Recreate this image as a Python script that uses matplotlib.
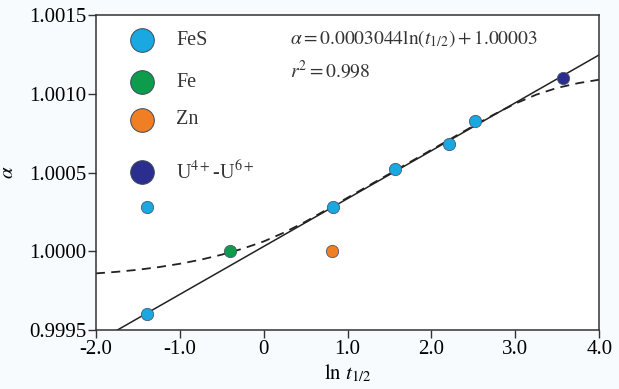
import numpy as np
import matplotlib
matplotlib.use("Agg")
import matplotlib.pyplot as plt

plt.rcParams['font.family'] = ['Liberation Serif', 'DejaVu Serif']
plt.rcParams['mathtext.fontset'] = 'stix'

# ---- data ----
fes_x = [-1.39, -1.39, 0.83, 1.57, 2.21, 2.52]
fes_y = [0.99960, 1.00028, 1.00028, 1.00052, 1.00068, 1.00083]
fe_x = [-0.40]
fe_y = [1.00000]
zn_x = [0.81]
zn_y = [1.00000]
u_x = [3.57]
u_y = [1.00110]

fit_slope = 0.0003044
fit_intercept = 1.00003
fit_x = [-2.0, 4.0]

dash_x = [-2.0, -1.75, -1.5, -1.25, -1.0, -0.75, -0.5, -0.25, 0.0, 0.25, 0.5,
          0.75, 1.0, 1.25, 1.5, 1.75, 2.0, 2.25, 2.5, 2.75, 3.0, 3.25, 3.5,
          3.75, 4.0]
dash_ppm = [-141, -131, -118, -101, -80, -54, -22, 16, 62, 120, 188,
            264, 340, 416, 492, 568, 644, 720, 796, 870, 938, 995, 1038,
            1068, 1090]

xticks = [-2.0, -1.0, 0.0, 1.0, 2.0, 3.0, 4.0]
xtick_labels = ['-2.0', '-1.0', '0', '1.0', '2.0', '3.0', '4.0']
yticks = [0.9995, 1.0000, 1.0005, 1.0010, 1.0015]
ytick_labels = ['0.9995', '1.0000', '1.0005', '1.0010', '1.0015']

legend_labels = ['FeS', 'Fe', 'Zn', r'U$^{4+}$-U$^{6+}$']
colors = ['#19a8e2', '#0d9b4c', '#f07e22', '#2b2e8e']

# ---- figure ----
fig = plt.figure(figsize=(6.19, 3.89), dpi=100, facecolor='#f8fbfe')
ax = fig.add_axes([0.155, 0.152, 0.813, 0.809])
ax.set_facecolor('white')

fx = np.array(fit_x)
ax.plot(fx, fit_slope * fx + fit_intercept, color='#222222', lw=1.1, zorder=2)
ax.plot(dash_x, 1.0 + np.array(dash_ppm) * 1e-6, color='#222222', lw=1.3,
        ls=(0, (5, 3.5)), zorder=2)

ms = 78
for xs, ys, c in [(fes_x, fes_y, colors[0]), (fe_x, fe_y, colors[1]),
                  (zn_x, zn_y, colors[2]), (u_x, u_y, colors[3])]:
    ax.scatter(xs, ys, s=ms, color=c, edgecolor='#4a5a6a', linewidth=0.6,
               zorder=3)

ax.set_xlim(-2.0, 4.0)
ax.set_ylim(0.9995, 1.0015)
ax.set_xticks(xticks)
ax.set_xticklabels(xtick_labels)
ax.set_yticks(yticks)
ax.set_yticklabels(ytick_labels)
ax.tick_params(axis='both', direction='out', length=6, width=1.0,
               color='#333333', labelsize=15, pad=1)
for s in ax.spines.values():
    s.set_color('#333333')
    s.set_linewidth(1.1)

ax.set_xlabel(r'$\mathrm{ln}\ t_{1/2}$', fontsize=15, labelpad=3)
ax.set_ylabel(r'$\alpha$', fontsize=15, labelpad=8)

# manual legend
leg_y = [0.921, 0.787, 0.667, 0.502]
for lab, c, yy in zip(legend_labels, colors, leg_y):
    ax.scatter([0.0915], [yy], s=290, color=c, edgecolor='#3a4a5a',
               linewidth=0.7, transform=ax.transAxes, zorder=4, clip_on=False)
    ax.text(0.159, yy, lab, transform=ax.transAxes, fontsize=14.5,
            va='center', ha='left', color='#333333')

ax.text(0.386, 0.927, r'$\alpha = 0.0003044\mathrm{ln}(t_{1/2}) + 1.00003$',
        transform=ax.transAxes, fontsize=14, va='center', ha='left',
        color='#333333')
ax.text(0.386, 0.825, r'$r^2 = 0.998$', transform=ax.transAxes, fontsize=14,
        va='center', ha='left', color='#333333')

fig.savefig('out.png', dpi=100, facecolor=fig.get_facecolor())
